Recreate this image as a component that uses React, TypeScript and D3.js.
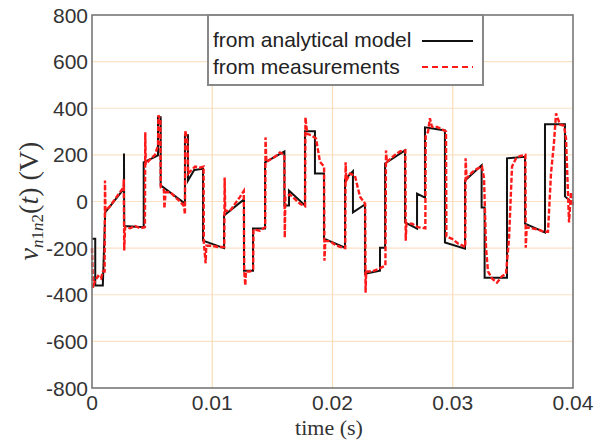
import React from 'react';
import * as d3 from 'd3';

// analytical model: piecewise steps [t (s), v (V)]
const modelT = [
  0, 0.00027, 0.00027, 0.0009, 0.0011, 0.00266, 0.00266, 0.00268, 0.0043, 0.0043,
  0.00549, 0.00549, 0.00571, 0.00571, 0.00773, 0.00773, 0.00798, 0.00798, 0.0085, 0.00923,
  0.00923, 0.01098, 0.01098, 0.01264, 0.01264, 0.01339, 0.01339, 0.01439, 0.01439, 0.016,
  0.016, 0.01638, 0.01638, 0.01771, 0.01771, 0.01854, 0.01854, 0.01929, 0.01929, 0.02104,
  0.02104, 0.0217, 0.0217, 0.0227, 0.0227, 0.02395, 0.02395, 0.02437, 0.02437, 0.02603,
  0.02603, 0.02703, 0.02703, 0.02769, 0.02769, 0.02935, 0.02935, 0.03102, 0.03102, 0.0324,
  0.0324, 0.03265, 0.03265, 0.03451, 0.03451, 0.03601, 0.03601, 0.03767, 0.03767, 0.03933,
  0.03933, 0.04,
];
const modelV = [
  -160, -160, -360, -360, -47, 55, 206, -105, -110, 168,
  198, 361, 361, 69, -9, 284, 284, 90, 135, 140,
  -168, -200, -60, 9, -297, -297, -116, -116, 168, 215,
  -17, -17, 47, -17, 301, 301, 120, 120, -159, -198,
  95, 130, -47, -13, -310, -297, -198, -198, 163, 219,
  -90, -116, 34, 17, 318, 305, -176, -202, 90, 155,
  -26, -26, -327, -327, 185, 192, -95, -133, 331, 331,
  22, -9,
];

const measT = [
  0, 0.00008, 0.00025, 0.0005, 0.00075, 0.00091, 0.00105, 0.00108, 0.00112, 0.0015,
  0.00191, 0.00233, 0.00262, 0.00264, 0.00268, 0.00275, 0.00316, 0.00358, 0.00399, 0.0044,
  0.00443, 0.00447, 0.00482, 0.00524, 0.00549, 0.00552, 0.00568, 0.00572, 0.00598, 0.00602,
  0.00612, 0.00649, 0.0069, 0.00732, 0.00765, 0.00773, 0.00776, 0.00795, 0.008, 0.00857,
  0.00898, 0.00928, 0.0093, 0.00945, 0.0095, 0.00998, 0.01048, 0.011, 0.01103, 0.01108,
  0.01148, 0.01189, 0.01231, 0.01262, 0.01266, 0.01275, 0.0128, 0.01314, 0.0134, 0.01343,
  0.01397, 0.0144, 0.01443, 0.0145, 0.0153, 0.01563, 0.016, 0.01603, 0.01608, 0.01647,
  0.01688, 0.0173, 0.01772, 0.01775, 0.0179, 0.01821, 0.01863, 0.01896, 0.0193, 0.01933,
  0.0194, 0.01979, 0.02021, 0.02062, 0.02106, 0.02109, 0.02115, 0.02146, 0.02187, 0.02229,
  0.02272, 0.02275, 0.0228, 0.02328, 0.02378, 0.0244, 0.02445, 0.02452, 0.0252, 0.02561,
  0.02606, 0.02609, 0.02615, 0.02661, 0.02711, 0.02772, 0.02775, 0.02795, 0.0281, 0.02827,
  0.02869, 0.0291, 0.02944, 0.02947, 0.02994, 0.03044, 0.03104, 0.03107, 0.03115, 0.0316,
  0.03202, 0.03243, 0.0326, 0.03277, 0.03293, 0.03326, 0.03368, 0.0341, 0.03443, 0.03468,
  0.03493, 0.03526, 0.03559, 0.03604, 0.03607, 0.03615, 0.03659, 0.03709, 0.03759, 0.03792,
  0.03817, 0.03842, 0.03859, 0.03892, 0.03925, 0.03942, 0.03967, 0.03983, 0.04,
];
const measV = [
  -200, -370, -340, -320, -330, -300, -300, 90, -40, -20,
  10, 40, 60, 95, -210, -110, -115, -105, -115, -110,
  297, 160, 180, 200, 240, 370, 350, 60, 50, -30,
  40, 40, 20, 0, -20, -55, 305, 250, 120, 150,
  145, 150, -175, -265, -190, -190, -195, -195, 103, -40,
  -40, -10, 20, 45, -300, -360, -300, -300, -290, -120,
  -125, -110, 275, 170, 195, 210, 200, -155, 20, 30,
  10, -10, -20, 361, 290, 285, 270, 170, 150, -254,
  -170, -170, -185, -195, -200, 168, 90, 120, 110, 20,
  -10, -391, -300, -300, -290, -275, 219, 170, 200, 215,
  219, -168, -95, -95, -110, -115, 280, 300, 357, 320,
  320, 310, 300, -150, -160, -180, -195, 185, 100, 125,
  140, 150, 100, -200, -300, -330, -348, -320, -310, -160,
  150, 185, 195, 200, -198, -110, -115, -120, -130, -130,
  120, 254, 378, 330, 325, 270, -90, 40, -20,
];

const yTicks = [800, 600, 400, 200, 0, -200, -400, -600, -800];
const xTicks = [0, 0.01, 0.02, 0.03, 0.04];
const xTickLabels = ['0', '0.01', '0.02', '0.03', '0.04'];
const legendLabels = ['from analytical model', 'from measurements'];

const W = 597;
const H = 440;
const left = 92, right = 573, top = 15, bottom = 388;

export default function App() {
  const x = d3.scaleLinear().domain([0, 0.04]).range([left, right]);
  const y = d3.scaleLinear().domain([-800, 800]).range([bottom, top]);

  const line = d3.line<[number, number]>()
    .x(d => x(d[0]))
    .y(d => y(d[1]));

  const model: [number, number][] = modelT.map((t, i) => [t, modelV[i]]);
  const meas: [number, number][] = measT.map((t, i) => [t, measV[i]]);

  const sans = 'Liberation Sans, Arial, sans-serif';
  const serif = 'Liberation Serif, Times New Roman, serif';

  return (
    <svg width={W} height={H} style={{ position: 'absolute', left: 0, top: 0, background: '#fff' }}>
      {/* grid */}
      {yTicks.slice(1, -1).map(v => (
        <line key={'gy' + v} x1={left} x2={right} y1={y(v)} y2={y(v)} stroke="#fbe2c6" strokeWidth={1.2} />
      ))}
      {xTicks.slice(1, -1).map(t => (
        <line key={'gx' + t} x1={x(t)} x2={x(t)} y1={top} y2={bottom} stroke="#f9dcb8" strokeWidth={1.2} />
      ))}

      {/* data */}
      <path d={line(model) || ''} fill="none" stroke="#111" strokeWidth={2} />
      <path d={line(meas) || ''} fill="none" stroke="#ff1a1a" strokeWidth={2.4} strokeDasharray="5,2" />

      {/* frame */}
      <rect x={left} y={top} width={right - left} height={bottom - top} fill="none" stroke="#777" strokeWidth={1.6} />

      {/* y tick labels */}
      {yTicks.map(v => (
        <text key={'ty' + v} x={left - 4} y={y(v) + 7.5} textAnchor="end" fontFamily={sans} fontSize={21} fill="#333">
          {v}
        </text>
      ))}
      {/* x tick labels */}
      {xTicks.map((t, i) => (
        <text key={'tx' + t} x={x(t)} y={410} textAnchor="middle" fontFamily={sans} fontSize={21} fill="#333">
          {xTickLabels[i]}
        </text>
      ))}

      {/* axis titles */}
      <text x={329} y={435} textAnchor="middle" fontFamily={serif} fontSize={22} fill="#333">time (s)</text>
      <text transform="translate(38,201) rotate(-90)" textAnchor="middle" fontFamily={serif} fontSize={28} fill="#333">
        <tspan fontStyle="italic">v</tspan>
        <tspan fontSize={17} dy={5}>
          <tspan fontStyle="italic">n</tspan>1<tspan fontStyle="italic">n</tspan>2
        </tspan>
        <tspan dy={-5}>(</tspan>
        <tspan fontStyle="italic">t</tspan>
        <tspan>) (V)</tspan>
      </text>

      {/* legend */}
      <rect x={208} y={15} width={275} height={70} fill="#fff" stroke="#888" strokeWidth={2} />
      <text x={213} y={47} fontFamily={sans} fontSize={21} fill="#222">{legendLabels[0]}</text>
      <text x={213} y={74} fontFamily={sans} fontSize={21} fill="#222">{legendLabels[1]}</text>
      <line x1={422} x2={473} y1={41} y2={41} stroke="#111" strokeWidth={2} />
      <line x1={422} x2={473} y1={67} y2={67} stroke="#ff1a1a" strokeWidth={2} strokeDasharray="6,4" />
    </svg>
  );
}
